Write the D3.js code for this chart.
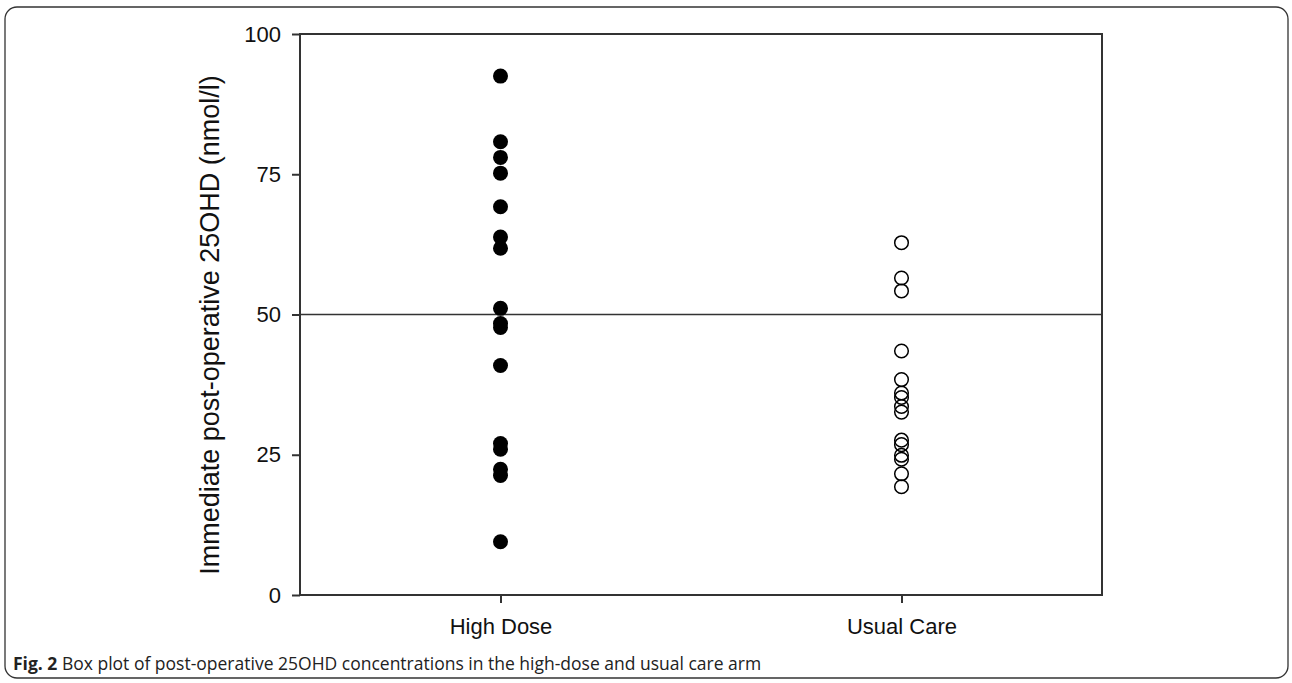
<!DOCTYPE html>
<html><head><meta charset="utf-8">
<script src="https://cdn.jsdelivr.net/npm/d3@7"></script>
<style>
html,body{margin:0;padding:0;background:#fff;}
svg{display:block;}
</style></head>
<body>
<svg id="chart" width="1292" height="683"></svg>
<script>
const categories = ["High Dose", "Usual Care"];
const highDose = [92.5, 80.8, 78.0, 75.2, 69.2, 63.8, 61.8, 51.1, 48.4, 47.7, 40.9, 27.0, 26.0, 22.4, 21.3, 9.5];
const usualCare = [62.8, 56.5, 54.2, 43.5, 38.4, 36.0, 35.2, 33.6, 32.6, 27.6, 26.8, 24.9, 24.2, 21.6, 19.3];
const yTicks = [0, 25, 50, 75, 100];
const refValue = 50;
const yLabel = "Immediate post-operative 25OHD (nmol/l)";
const captionBold = "Fig. 2";
const captionText = " Box plot of post-operative 25OHD concentrations in the high-dose and usual care arm";

const svg = d3.select("#chart");
const W = 1292, H = 683;
const m = {left: 300, right: 1102, top: 34, bottom: 595};

// outer frame
svg.append("rect").attr("x", 5).attr("y", 7).attr("width", W - 9).attr("height", H - 12)
  .attr("rx", 12).attr("ry", 12).attr("fill", "none").attr("stroke", "#333").attr("stroke-width", 1.3);

const x = d3.scalePoint().domain(categories).range([m.left, m.right]).padding(0.5);
const y = d3.scaleLinear().domain([0, 100]).range([m.bottom, m.top]);

const font = "'Liberation Sans', Arial, sans-serif";

// plot box
svg.append("rect").attr("x", m.left).attr("y", m.top).attr("width", m.right - m.left).attr("height", m.bottom - m.top)
  .attr("fill", "none").attr("stroke", "#333").attr("stroke-width", 2);

// y axis
const yAxis = svg.append("g").attr("transform", `translate(${m.left},0)`)
  .call(d3.axisLeft(y).tickValues(yTicks).tickSize(8).tickPadding(11).tickFormat(d3.format("d")));
yAxis.select(".domain").remove();
yAxis.selectAll("line").attr("stroke", "#333").attr("stroke-width", 2);
yAxis.selectAll("text").attr("font-family", font).attr("font-size", 22).attr("fill", "#111");

// x axis
const xAxis = svg.append("g").attr("transform", `translate(0,${m.bottom})`)
  .call(d3.axisBottom(x).tickSize(8).tickPadding(15));
xAxis.select(".domain").remove();
xAxis.selectAll("line").attr("stroke", "#333").attr("stroke-width", 2);
xAxis.selectAll("text").attr("font-family", font).attr("font-size", 22).attr("fill", "#111");

// reference line
svg.append("line").attr("x1", m.left).attr("x2", m.right).attr("y1", y(refValue)).attr("y2", y(refValue))
  .attr("stroke", "#333").attr("stroke-width", 1.5);

// points
svg.append("g").selectAll("circle").data(highDose).join("circle")
  .attr("cx", x(categories[0])).attr("cy", d => y(d)).attr("r", 7.5).attr("fill", "#000");
svg.append("g").selectAll("circle").data(usualCare).join("circle")
  .attr("cx", x(categories[1])).attr("cy", d => y(d)).attr("r", 6.8).attr("fill", "none")
  .attr("stroke", "#000").attr("stroke-width", 1.5);

// y label
svg.append("text").attr("transform", `translate(219,325) rotate(-90)`)
  .attr("text-anchor", "middle").attr("font-family", font).attr("font-size", 27).attr("fill", "#111")
  .text(yLabel);

// caption
const cap = svg.append("text").attr("x", 13).attr("y", 670).attr("font-family", "'Open Sans', 'Noto Sans', sans-serif")
  .attr("font-size", 17.5).attr("fill", "#222");
cap.append("tspan").attr("font-weight", "bold").text(captionBold);
cap.append("tspan").text(captionText);
</script>
</body></html>
